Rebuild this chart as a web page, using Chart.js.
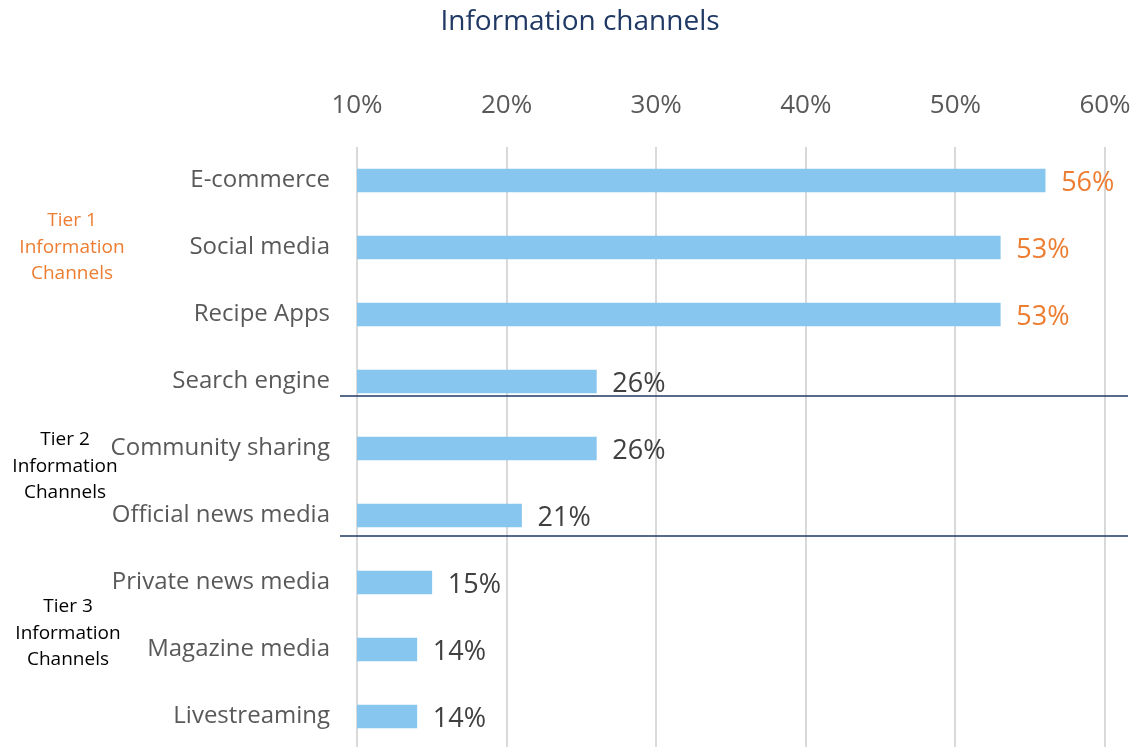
<!DOCTYPE html>
<html>
<head>
<meta charset="utf-8">
<script src="https://cdn.jsdelivr.net/npm/chart.js@4/dist/chart.umd.min.js"></script>
<style>
  html, body { margin: 0; padding: 0; background: #fff; overflow: hidden; }
  canvas { display: block; }
</style>
</head>
<body>
<canvas id="chart" width="1134" height="750"></canvas>
<script>
const channels = [
  'E-commerce', 'Social media', 'Recipe Apps', 'Search engine',
  'Community sharing', 'Official news media', 'Private news media',
  'Magazine media', 'Livestreaming'
];
const shares = [56, 53, 53, 26, 26, 21, 15, 14, 14];
const xTicks = [10, 20, 30, 40, 50, 60];
const highlightCount = 3;         // top channels get orange labels
const tierBreaks = [3.22, 5.31];  // divider positions on the category scale

const tiers = [
  { lines: ['Tier 1', 'Information', 'Channels'], row: 1, color: '#ED7D31', x: 72 },
  { lines: ['Tier 2', 'Information', 'Channels'], row: 4.27, color: '#000000', x: 65 },
  { lines: ['Tier 3', 'Information', 'Channels'], row: 6.76, color: '#000000', x: 68 }
];

const FONT = '"Open Sans", "Noto Sans", sans-serif';
const GREY_TEXT = '#595959';

const overlay = {
  id: 'overlay',
  afterDatasetsDraw(chart) {
    const ctx = chart.ctx;
    const y = chart.scales.y;
    const meta = chart.getDatasetMeta(0);

    ctx.save();
    // title
    ctx.font = '28px ' + FONT;
    ctx.fillStyle = '#1F3864';
    ctx.textAlign = 'center';
    ctx.textBaseline = 'middle';
    ctx.fillText('Information channels', 580, 22);

    // value labels
    ctx.font = '27px ' + FONT;
    ctx.textAlign = 'left';
    meta.data.forEach((bar, i) => {
      ctx.fillStyle = i < highlightCount ? '#ED7D31' : '#404040';
      ctx.fillText(shares[i] + '%', bar.x + 16, bar.y + 3);
    });

    // tier dividers
    ctx.strokeStyle = '#1F3864';
    ctx.lineWidth = 1.6;
    tierBreaks.forEach(r => {
      const py = Math.round(y.getPixelForValue(r));
      ctx.beginPath();
      ctx.moveTo(340, py);
      ctx.lineTo(1128, py);
      ctx.stroke();
    });

    // tier captions
    ctx.font = '19px ' + FONT;
    ctx.textAlign = 'center';
    tiers.forEach(t => {
      const cy = y.getPixelForValue(t.row);
      ctx.fillStyle = t.color;
      t.lines.forEach((line, k) => {
        ctx.fillText(line, t.x, cy + (k - 1) * 26.5);
      });
    });
    ctx.restore();
  }
};

new Chart(document.getElementById('chart'), {
  type: 'bar',
  data: {
    labels: channels,
    datasets: [{
      data: shares,
      backgroundColor: '#86C6EF',
      borderWidth: 0,
      barThickness: 23
    }]
  },
  options: {
    indexAxis: 'y',
    responsive: false,
    animation: false,
    devicePixelRatio: 1,
    layout: { padding: { top: 0, right: 29, bottom: 0, left: 0 } },
    plugins: {
      legend: { display: false },
      title: { display: false },
      tooltip: { enabled: false }
    },
    scales: {
      x: {
        position: 'top',
        min: 10,
        max: 60,
        afterBuildTicks: axis => { axis.ticks = xTicks.map(v => ({ value: v })); },
        afterFit: axis => {
          axis.height = 147;
          axis.paddingLeft = 0;
          axis.paddingRight = 0;
        },
        ticks: {
          padding: 26,
          color: GREY_TEXT,
          font: { family: FONT, size: 26 },
          callback: v => v + '%'
        },
        grid: { color: '#D9D9D9', lineWidth: 2, drawTicks: false },
        border: { display: false }
      },
      y: {
        afterFit: axis => {
          axis.width = 357;
          axis.paddingTop = 0;
          axis.paddingBottom = 0;
        },
        ticks: {
          padding: 27,
          color: GREY_TEXT,
          font: { family: FONT, size: 24 }
        },
        grid: { display: false, drawTicks: false },
        border: { display: false }
      }
    }
  },
  plugins: [overlay]
});
</script>
</body>
</html>
